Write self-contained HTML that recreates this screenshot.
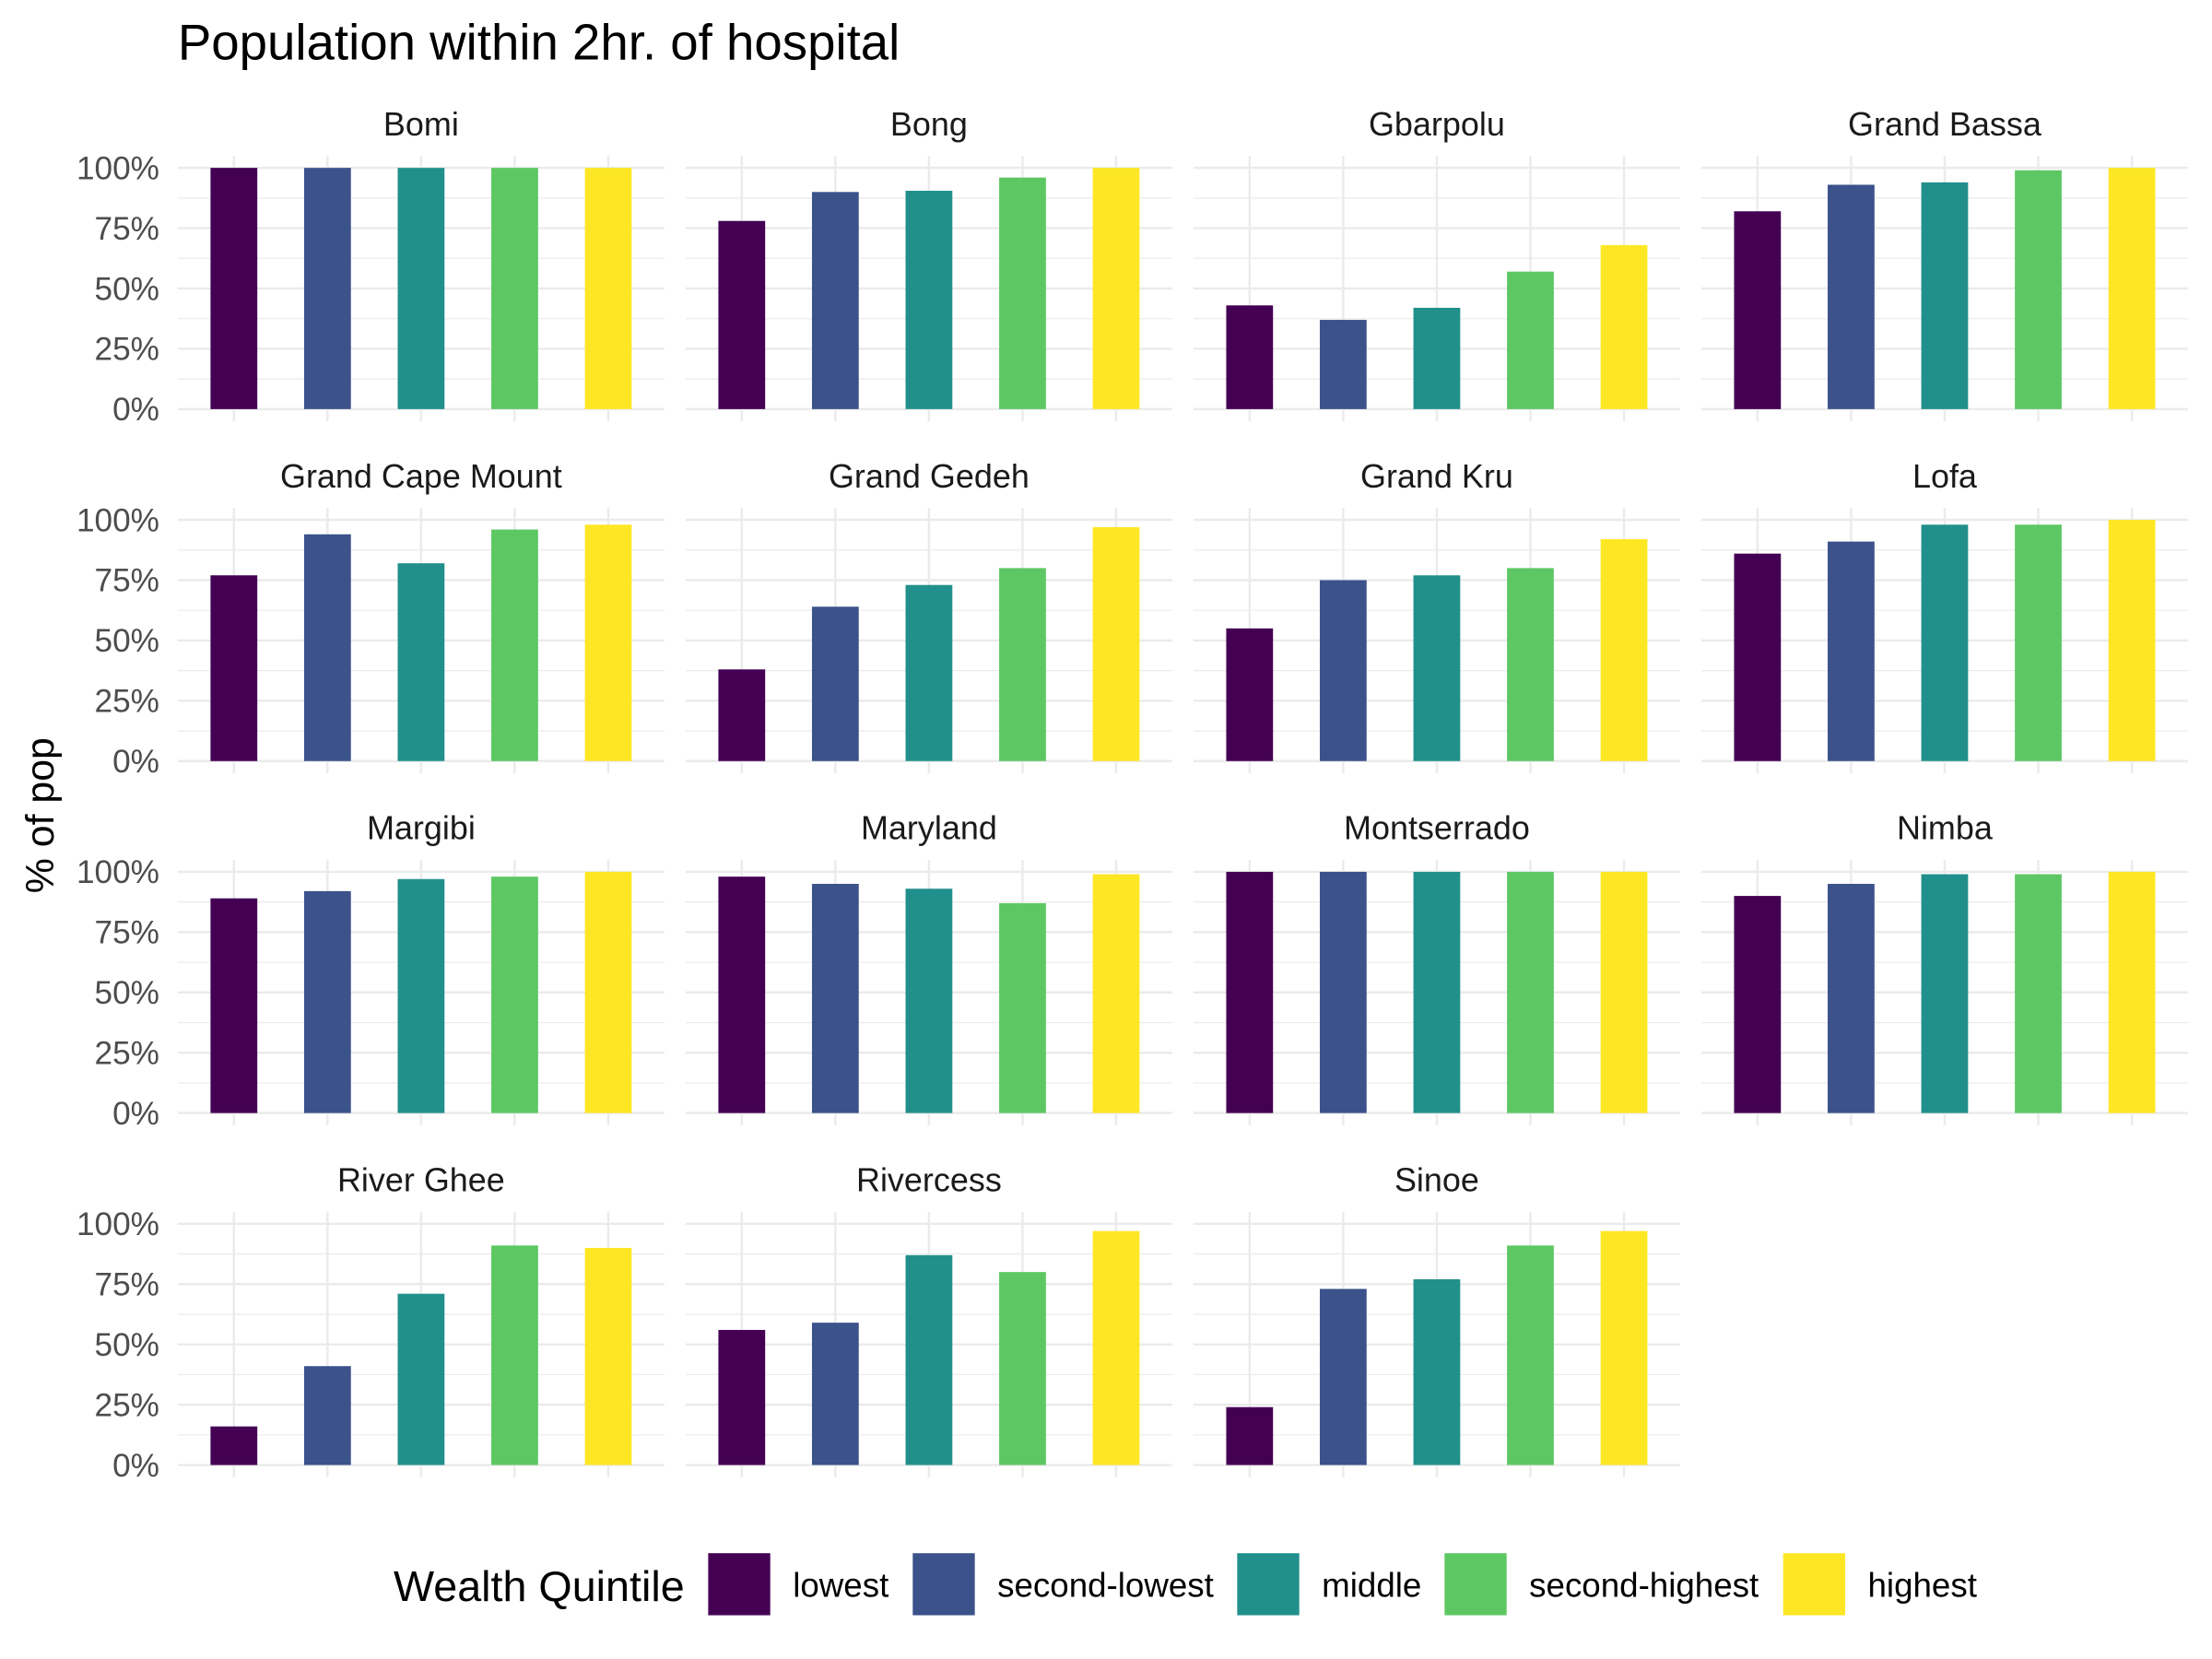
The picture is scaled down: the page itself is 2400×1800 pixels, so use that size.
<!DOCTYPE html>
<html><head><meta charset="utf-8"><style>
html,body{margin:0;padding:0;background:#fff;}
svg{display:block;font-family:"Liberation Sans",sans-serif;}
</style></head><body>
<svg id="chart" width="2400" height="1800" viewBox="0 0 1568 1176" xmlns="http://www.w3.org/2000/svg">
<rect width="1568" height="1176" fill="#fff"/>
<text x="126" y="42" font-size="35.7" fill="#000">Population within 2hr. of hospital</text>
<text transform="translate(38,578) rotate(-90)" text-anchor="middle" font-size="28" fill="#000">% of pop</text>
<g id="panels"></g>
<g id="legend"></g>
</svg>
<script>
const regions = ["Bomi","Bong","Gbarpolu","Grand Bassa","Grand Cape Mount","Grand Gedeh","Grand Kru","Lofa","Margibi","Maryland","Montserrado","Nimba","River Ghee","Rivercess","Sinoe"];
const quintiles = ["lowest","second-lowest","middle","second-highest","highest"];
const colors = ["#440154","#3B528B","#21908C","#5DC863","#FDE725"];
const lowest = [100,78,43,82,77,38,55,86,89,98,100,90,16,56,24];
const secondLowest = [100,90,37,93,94,64,75,91,92,95,100,95,41,59,73];
const middle = [100,90.5,42,94,82,73,77,98,97,93,100,99,71,87,77];
const secondHighest = [100,96,57,99,96,80,80,98,98,87,100,99,91,80,91];
const highest = [100,100,68,100,98,97,92,100,100,99,100,100,90,97,97];
const yTicks = [0,25,50,75,100];
const yTickLabels = ["0%","25%","50%","75%","100%"];
const series = [lowest,secondLowest,middle,secondHighest,highest];

const NS="http://www.w3.org/2000/svg";
function mk(tag,attrs,parent){const e=document.createElementNS(NS,tag);for(const k in attrs)e.setAttribute(k,attrs[k]);parent.appendChild(e);return e;}
const panelsG=document.getElementById('panels');
const PW=345, PX0=126, PXSTEP=360, Y0=290, YSTEP=249.5, H100=171;
const step=PW/5.2;
function xPos(col,i){return PX0+col*PXSTEP+step*(0.6+i);}
function yPos(row,v){return Y0+row*YSTEP-v/100*H100;}

regions.forEach((name,r)=>{
  const col=r%4,row=Math.floor(r/4);
  const g=mk('g',{},panelsG);
  
  
  const left=PX0+col*PXSTEP, top=yPos(row,105), bot=yPos(row,-5);
  for(let k=0;k<4;k++){const v=12.5+25*k;const y=yPos(row,v);
    const l=mk('line',{x1:left,x2:left+PW,y1:y,y2:y,stroke:'#EBEBEB','stroke-width':0.8},g);
    }
  yTicks.forEach((v,k)=>{const y=yPos(row,v);
    const l=mk('line',{x1:left,x2:left+PW,y1:y,y2:y,stroke:'#EBEBEB','stroke-width':1.6},g);
    
    if(col===0){const t=mk('text',{x:left-13,y:y+8,'text-anchor':'end','font-size':23,fill:'#4D4D4D'},g);
      t.textContent=yTickLabels[k];
      }
  });
  for(let i=0;i<5;i++){const x=xPos(col,i);
    const l=mk('line',{x1:x,x2:x,y1:top,y2:bot,stroke:'#EBEBEB','stroke-width':1.6},g);
    }
  const st=mk('text',{x:left+PW/2,y:yPos(row,100)-23,'text-anchor':'middle','font-size':23.5,fill:'#1A1A1A'},g);
  st.textContent=name;
  
  series.forEach((s,i)=>{const v=s[r];const x=xPos(col,i);const y1=yPos(row,v),y0=yPos(row,0);
    const b=mk('rect',{x:x-step/4,y:y1,width:step/2,height:y0-y1,fill:colors[i]},g);
    });
});
const lg=document.getElementById('legend');
const lt=mk('text',{x:279,y:1135,'font-size':30.5,fill:'#000'},lg);
lt.textContent='Wealth Quintile';

const keyX=[502,647,877,1024,1264];
quintiles.forEach((q,i)=>{
  const e=mk('g',{},lg);
  
  mk('rect',{x:keyX[i],y:1101,width:44,height:44,fill:colors[i]},e);
  const t=mk('text',{x:keyX[i]+60,y:1132,'font-size':24,fill:'#000'},e);t.textContent=q;
});
</script>
</body></html>
